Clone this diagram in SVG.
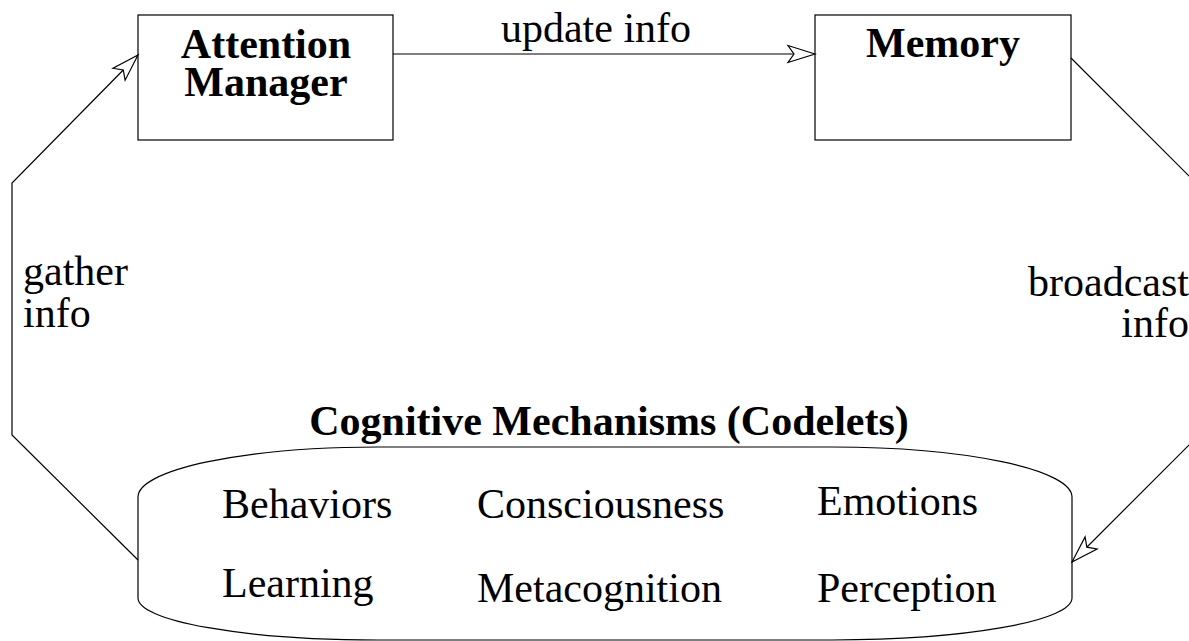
<svg xmlns="http://www.w3.org/2000/svg" width="1189" height="641" viewBox="0 0 1189 641">
<style>
text{font-family:"Liberation Serif","Times New Roman",serif;font-size:42px;fill:#000}
.b{font-weight:bold}
.shape{fill:#fff;stroke:#000;stroke-width:1.2}
.conn{fill:none;stroke:#000;stroke-width:1.2}
</style>
<defs>
<marker id="arr" markerUnits="userSpaceOnUse" markerWidth="40" markerHeight="30" refX="30" refY="10" orient="auto" viewBox="0 0 40 20" overflow="visible">
<path d="M30,10 L3,1.5 L9,10 L3,18.5 Z" fill="#fff" stroke="#000" stroke-width="1.2"/>
</marker>
</defs>
<g id="attention-manager">
<rect class="shape" x="138" y="15" width="255" height="125"/>
<text class="b" x="266" y="58" text-anchor="middle">Attention</text>
<text class="b" x="266" y="96" text-anchor="middle">Manager</text>
</g>
<g id="memory">
<rect class="shape" x="815" y="15" width="256" height="125"/>
<text class="b" x="943" y="57" text-anchor="middle">Memory</text>
</g>
<g id="cognitive-mechanisms">
<path class="shape" d="M138,497 A240,50 0 0 1 378,447 L832,447 A240,50 0 0 1 1072,497 L1072,598 A240,42 0 0 1 832,640 L378,640 A240,42 0 0 1 138,598 Z"/>
<text class="b" x="609" y="435" text-anchor="middle">Cognitive Mechanisms (Codelets)</text>
<text x="222" y="518">Behaviors</text>
<text x="477" y="518">Consciousness</text>
<text x="817" y="515">Emotions</text>
<text x="222" y="597">Learning</text>
<text x="477" y="602">Metacognition</text>
<text x="817" y="602">Perception</text>
</g>
<g id="connectors">
<line class="conn" x1="393" y1="54" x2="815" y2="54" marker-end="url(#arr)"/>
<polyline class="conn" points="1071,58 1190,177 1190,444 1072,562" marker-end="url(#arr)"/>
<polyline class="conn" points="138,560 12,435 12,183 138,55" marker-end="url(#arr)"/>
<text x="596" y="42" text-anchor="middle">update info</text>
<text x="23" y="285">gather</text>
<text x="23" y="327">info</text>
<text x="1189" y="296" text-anchor="end">broadcast</text>
<text x="1189" y="337" text-anchor="end">info</text>
</g>
</svg>
